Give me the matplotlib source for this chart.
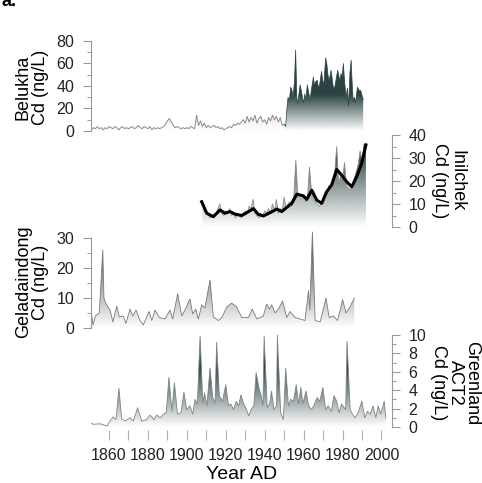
import numpy as np
import matplotlib
matplotlib.use('Agg')
import matplotlib.pyplot as plt
from matplotlib.patches import Polygon
from matplotlib.colors import LinearSegmentedColormap
from matplotlib.ticker import MultipleLocator

plt.rcParams['font.family'] = ['Liberation Sans', 'DejaVu Sans']

# ---- data ----
belukha_pre_years = np.arange(1851, 1951)
belukha_pre = [1, 3, 2, 4, 2, 3, 1, 3, 2, 4,
               3, 2, 4, 3, 1, 3, 4, 2, 3, 2,
               3, 4, 2, 3, 5, 3, 2, 4, 3, 2,
               4, 1, 3, 2, 3, 2, 3, 4, 6, 9,
               11, 8, 5, 3, 4, 3, 2, 3, 2, 3,
               2, 4, 3, 2, 14, 5, 9, 4, 7, 3,
               5, 3, 4, 5, 3, 4, 2, 3, 1, 2,
               3, 4, 3, 6, 5, 7, 6, 8, 10, 7,
               13, 8, 12, 9, 14, 7, 11, 13, 8, 10,
               6, 12, 9, 14, 10, 13, 8, 12, 5, 6]

belukha_post_years = [1950.0, 1950.8, 1951.3, 1952.0, 1952.6, 1953.4, 1954.0, 1954.6,
                      1955.3, 1955.9, 1956.5, 1957.0, 1957.6, 1958.2, 1958.8, 1959.4,
                      1960.0, 1960.6, 1961.2, 1961.9, 1962.6, 1963.3, 1964.0, 1964.5,
                      1965.0, 1965.6, 1966.2, 1967.0, 1967.6, 1968.3, 1969.2, 1969.8,
                      1970.4, 1971.3, 1971.9, 1972.5, 1973.0, 1973.6, 1974.1, 1974.7,
                      1975.3, 1976.0, 1976.7, 1977.5, 1978.0, 1978.6, 1979.2, 1979.8,
                      1980.4, 1981.0, 1981.8, 1982.5, 1983.1, 1983.8, 1984.4, 1985.0,
                      1985.5, 1986.1, 1986.7, 1987.2, 1987.7, 1988.5, 1989.3, 1989.8,
                      1990.3, 1990.6]
belukha_post = [6, 4, 18, 30, 26, 39, 36, 30,
                44, 72, 30, 24, 33, 41, 36, 30,
                25, 33, 28, 41, 34, 27, 37, 42,
                48, 40, 44, 45, 38, 42, 53, 45,
                41, 65, 60, 50, 45, 49, 54, 46,
                38, 39, 46, 54, 50, 44, 51, 48,
                60, 45, 30, 38, 22, 52, 63, 40,
                26, 30, 25, 33, 39, 36, 36, 33,
                30, 28]

inilchek_years = np.arange(1908, 1993)
inilchek = [11, 8, 6, 5, 4, 5, 4, 6, 8, 10,
            6, 5, 7, 6, 8, 5, 6, 4, 6, 5,
            4, 6, 7, 6, 9, 8, 12, 6, 5, 4,
            6, 5, 7, 6, 8, 6, 10, 7, 12, 6,
            8, 7, 13, 8, 10, 11, 9, 14, 29, 14,
            13, 12, 14, 11, 13, 26, 16, 12, 11, 10,
            9, 10, 12, 15, 14, 18, 17, 20, 24, 35,
            19, 22, 20, 28, 18, 17, 16, 18, 21, 24,
            27, 33, 28, 36, 36]

inilchek_smooth_years = [1907.6, 1910.2, 1913.6, 1917.0, 1919.6, 1922.2, 1924.7, 1928.2,
                         1930.7, 1934.2, 1936.7, 1939.3, 1942.7, 1946.2, 1948.7, 1951.3,
                         1953.9, 1956.5, 1959.9, 1961.6, 1964.2, 1966.7, 1969.3, 1971.8,
                         1974.4, 1977.0, 1979.5, 1982.1, 1984.7, 1987.3, 1989.8, 1992.0]
inilchek_smooth = [11, 6, 4.5, 7.4, 6, 6.7, 5.6, 5,
                   6.2, 8, 5.5, 4.8, 6.2, 7.8, 6.7, 8.5,
                   10.3, 14.3, 13.5, 12, 16, 11.7, 10.3, 15.3,
                   18.3, 25, 22.6, 19.7, 17.5, 21.9, 27.7, 35.7]

gela_years = [1850.6, 1851.8, 1853.0, 1855.0, 1856.8, 1857.4, 1858.5, 1860.5, 1862.0,
              1864.0, 1865.3, 1867.3, 1868.7, 1870.8, 1872.2, 1873.9, 1875.9, 1877.6,
              1880.6, 1882.0, 1883.6, 1885.9, 1888.8, 1891.3, 1892.7, 1895.3, 1897.4,
              1899.0, 1901.6, 1903.0, 1904.6, 1905.9, 1907.6, 1909.3, 1911.9, 1913.6,
              1916.2, 1918.0, 1920.5, 1923.0, 1925.6, 1928.2, 1931.6, 1933.6, 1936.0,
              1939.3, 1941.0, 1942.4, 1943.6, 1945.4, 1947.0, 1949.2, 1951.3, 1953.0,
              1955.6, 1958.2, 1960.7, 1962.5, 1963.2, 1964.5, 1965.9, 1968.5, 1971.5,
              1973.1, 1975.3, 1977.4, 1978.8, 1980.0, 1981.8, 1983.8, 1986.0]
gela = [7, 1, 4, 5, 26, 10, 8, 6, 2,
        7.3, 3.7, 4, 1.5, 6.3, 4, 6, 2.5, 1,
        5.5, 2.5, 6, 3.5, 3, 6, 3, 11.5, 4,
        6, 9.7, 4.7, 6.3, 3, 7.7, 6.7, 16, 3.7,
        2.5, 3.5, 7, 8.3, 7, 3.5, 3.5, 6.3, 3,
        4, 8, 6.3, 7.7, 5, 6.3, 9, 3.5, 5.5,
        3.5, 3, 2.5, 12.5, 6, 32, 2.5, 2, 10,
        3.5, 4, 2.5, 6, 9.5, 5, 7, 10]

green_years = [1849.9, 1852.0, 1855.5, 1859.0, 1860.5, 1862.2, 1863.6, 1865.1, 1866.5,
               1868.3, 1870.8, 1872.5, 1874.7, 1876.8, 1879.3, 1881.1, 1883.2, 1884.5,
               1886.3, 1888.0, 1889.4, 1890.8, 1892.3, 1893.6, 1895.2, 1897.0, 1898.5,
               1899.9, 1901.6, 1903.0, 1904.2, 1905.4, 1906.8, 1908.2, 1909.1, 1910.3,
               1911.9, 1913.3, 1914.5, 1915.3, 1916.7, 1918.3, 1920.0, 1921.4, 1922.6,
               1924.0, 1925.4, 1926.6, 1927.8, 1929.2, 1930.6, 1931.8, 1933.0, 1934.4,
               1935.6, 1937.0, 1938.2, 1939.1, 1939.7, 1941.3, 1942.5, 1943.5, 1944.7,
               1946.1, 1946.5, 1948.2, 1949.6, 1950.8, 1952.2, 1953.4, 1954.8, 1956.2,
               1957.4, 1958.6, 1959.6, 1961.2, 1962.6, 1964.0, 1965.2, 1966.9, 1968.3,
               1969.9, 1971.3, 1972.6, 1974.2, 1975.6, 1977.0, 1978.2, 1979.5, 1980.8,
               1981.6, 1982.3, 1983.9, 1985.1, 1986.4, 1988.0, 1989.9, 1991.4, 1992.8,
               1994.2, 1995.7, 1997.1, 1998.3, 1999.6, 2001.4, 2002.2]
green = [0.5, 0.3, 0.35, 0.1, 0.65, 1.1, 0.8, 4.2, 0.9,
         0.65, 1.0, 0.65, 2.1, 0.65, 0.8, 1.3, 0.8, 1.3,
         1.0, 1.4, 1.55, 5.4, 1.7, 4.8, 1.4, 1.55, 3.8,
         1.9, 2.3, 1.4, 3.0, 2.5, 9.9, 2.6, 3.7, 2.3,
         6.4, 3.2, 2.6, 9.2, 3.4, 2.8, 4.6, 2.3, 2.5,
         1.9, 2.8, 2.3, 3.5, 2.5, 1.9, 1.2, 1.9, 2.3,
         5.9, 4.3, 3.4, 2.3, 9.9, 2.1, 2.5, 3.9, 1.9,
         2.3, 10.0, 1.55, 0.8, 6.4, 2.3, 3.0, 2.8, 4.6,
         2.5, 4.3, 2.5, 3.9, 2.3, 1.9, 2.3, 3.2, 2.8,
         4.3, 1.9, 2.3, 1.7, 3.4, 2.8, 1.55, 2.5, 2.1,
         1.9, 9.3, 1.9, 1.4, 1.0, 1.55, 2.8, 1.0, 1.7,
         1.4, 2.3, 1.0, 2.3, 1.4, 2.8, 1.0]

W, H = 482, 483
AX_L, AX_R = 91, 392
XMIN, XMAX = 1850.75, 2005.4
DARK = '#2b4242'
TICK_C = '#9a9a9a'


def place_axes(fig, py0, pyt, vtop, lo, hi):
    s = (py0 - pyt) / vtop
    bottom_px = py0 - lo * s
    ax = fig.add_axes([AX_L / W, 1 - bottom_px / H, (AX_R - AX_L) / W, (hi - lo) * s / H])
    ax.set_facecolor('none')
    ax.set_xlim(XMIN, XMAX)
    ax.set_ylim(lo, hi)
    for sp in ax.spines.values():
        sp.set_visible(False)
    ax.set_xticks([])
    return ax


def grad_fill(ax, x, y, top, color=DARK, z=1):
    x = np.asarray(x, float)
    y = np.asarray(y, float)
    verts = [(x[0], 0)] + list(zip(x, y)) + [(x[-1], 0)]
    patch = Polygon(verts, closed=True, facecolor='none', edgecolor='none')
    ax.add_patch(patch)
    ymax = y.max()
    rgb = matplotlib.colors.to_rgb(color)
    cmap = LinearSegmentedColormap.from_list('g', [rgb + (0.0,), rgb + (1.0,)])
    grad = np.clip(np.linspace(0, ymax, 300) / top, 0, 1)[:, None]
    im = ax.imshow(grad, extent=[x[0], x[-1], 0, ymax], origin='lower', aspect='auto',
                   cmap=cmap, vmin=0, vmax=1, zorder=z)
    im.set_clip_path(patch)


def style_y(ax, side, major, minor, top):
    ax.spines[side].set_visible(True)
    ax.spines[side].set_color(TICK_C)
    ax.spines[side].set_linewidth(0.8)
    ax.spines[side].set_bounds(0, top)
    ax.yaxis.set_ticks_position(side)
    ax.set_yticks(np.arange(0, top + 0.01, major))
    ax.yaxis.set_minor_locator(MultipleLocator(minor))
    ax.tick_params(axis='y', which='major', length=6, width=0.8, color=TICK_C,
                   labelsize=11.5, pad=6, labelcolor='#222222')
    ax.tick_params(axis='y', which='minor', length=3, width=0.7, color=TICK_C)


fig = plt.figure(figsize=(W / 100, H / 100), dpi=100)

# Belukha
ax1 = place_axes(fig, 131, 41, 80, -2, 80)
grad_fill(ax1, belukha_pre_years, belukha_pre, 90, color='#777777')
ax1.plot(belukha_pre_years, belukha_pre, color='#8a8a8a', lw=0.7)
grad_fill(ax1, belukha_post_years, belukha_post, 32)
ax1.plot(belukha_post_years, belukha_post, color=DARK, lw=0.5)
style_y(ax1, 'left', 20, 10, 80)
ax1.set_ylim(-2, 80)

# Inilchek
ax2 = place_axes(fig, 227, 135, 40, -1, 40)
grad_fill(ax2, inilchek_years, inilchek, 34)
ax2.plot(inilchek_years, inilchek, color='#8a8a8a', lw=0.6)
ax2.plot(inilchek_smooth_years, inilchek_smooth, color='black', lw=2.2, zorder=3)
style_y(ax2, 'right', 10, 5, 40)
ax2.set_ylim(-1, 40)

# Geladaindong
ax3 = place_axes(fig, 328, 238, 30, -1, 33)
grad_fill(ax3, gela_years, gela, 30, color='#3a4646')
ax3.plot(gela_years, gela, color='#7a7a7a', lw=0.6)
style_y(ax3, 'left', 10, 5, 30)
ax3.set_ylim(-1, 33)

# Greenland ACT2
ax4 = place_axes(fig, 427, 335, 10, -0.3, 10.3)
grad_fill(ax4, green_years, green, 6.5)
ax4.plot(green_years, green, color='#7f8585', lw=0.6)
style_y(ax4, 'right', 2, 1, 10)
ax4.set_ylim(-0.3, 10.3)
ax4.set_xticks(np.arange(1860, 2001, 20))
ax4.xaxis.set_minor_locator(MultipleLocator(10))
ax4.tick_params(axis='x', which='both', length=7, width=0.8, color='#b0b0b0',
                labelsize=11.5, pad=6, labelcolor='#222222')
ax4.set_xlim(XMIN, XMAX)
ax4.set_xlabel('Year AD', fontsize=14, labelpad=2.5)

# panel labels
fig.text(32 / W, 1 - 87 / H, 'Belukha\nCd (ng/L)', rotation=90, ha='center', va='center',
         fontsize=13, linespacing=1.0)
fig.text(32 / W, 1 - 282 / H, 'Geladaindong\nCd (ng/L)', rotation=90, ha='center', va='center',
         fontsize=13, linespacing=1.0)
fig.text(448 / W, 1 - 181 / H, 'Inilchek\nCd (ng/L)', rotation=270, ha='center', va='center',
         fontsize=13, linespacing=1.0)
fig.text(455 / W, 1 - 383 / H, 'Greenland\nACT2\nCd (ng/L)', rotation=270, ha='center',
         va='center', fontsize=13, linespacing=0.95)
fig.text(0.004, 0.997, 'a.', ha='left', va='center', fontsize=13, fontweight='bold')

fig.savefig('out.png', dpi=100)
